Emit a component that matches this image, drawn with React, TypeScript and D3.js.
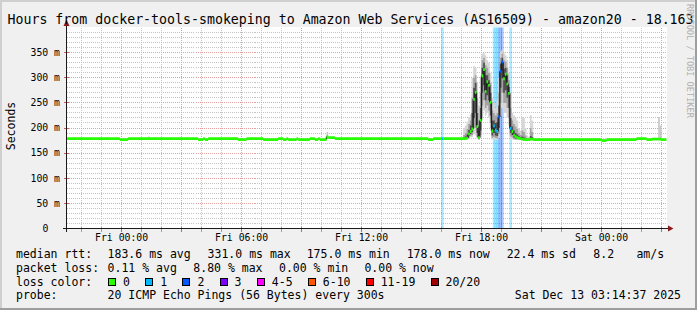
import React from "react";
import * as d3 from "d3";

// ---------- data ----------
const titleText =
  "Hours from docker-tools-smokeping to Amazon Web Services (AS16509) - amazon20 - 18.163";
const yAxisTitle = "Seconds";
const watermark = "RRDTOOL / TOBI OETIKER";

const endTime = Date.UTC(2025, 11, 13, 3, 14, 37);
const spanHours = 30;
const stepMinutes = 5;
const stepCount = 360;

const yMax = 400;
const yMajorTicks = [0, 50, 100, 150, 200, 250, 300, 350];
const yTickLabels = ["0", "50 m", "100 m", "150 m", "200 m", "250 m", "300 m", "350 m"];

const xTickLabels = ["Fri 00:00", "Fri 06:00", "Fri 12:00", "Fri 18:00", "Sat 00:00"];
const xTickTimes = [
  Date.UTC(2025, 11, 12, 0),
  Date.UTC(2025, 11, 12, 6),
  Date.UTC(2025, 11, 12, 12),
  Date.UTC(2025, 11, 12, 18),
  Date.UTC(2025, 11, 13, 0),
];

// median rtt (ms) runs of 5-minute steps: [fromStep, toStep, value]
const medianRuns: [number, number, number][] = [
  [0, 31, 179], [32, 36, 177], [37, 78, 179], [79, 81, 177], [82, 82, 179],
  [83, 84, 177], [85, 102, 179], [103, 107, 177], [108, 117, 179], [118, 126, 177],
  [127, 129, 179], [130, 131, 177], [132, 132, 179], [133, 137, 177], [138, 138, 179],
  [139, 145, 177], [146, 148, 179], [149, 150, 177], [151, 151, 179], [152, 155, 177],
  [156, 156, 183], [157, 160, 181], [161, 216, 179], [217, 219, 177], [220, 235, 179],
  [281, 320, 177], [321, 323, 175], [324, 341, 177], [342, 347, 179], [348, 350, 177],
  [351, 356, 178], [357, 359, 177],
];

// detailed steps during the evening congestion (steps 236..280)
const spikeStart = 236;
const spikeMedian = [179,179,179,179,180,188,193,198,257,271,203,181,215,304,316,273,292,285,251,194,204,196,193,222,313,331,298,307,288,269,199,193,186,183,181,180,179,178,177,177,177,177,178,178,177];
const smokeOuterHi = [180,181,200,205,213,222,228,300,323,320,290,245,300,348,350,345,335,330,310,260,250,240,255,300,352,355,350,345,335,310,270,230,225,220,215,200,195,222,220,200,185,182,226,215,180];
const smokeMidHi = [179,180,186,190,198,208,215,260,300,305,260,215,270,335,340,325,320,310,290,235,230,225,230,270,340,348,335,332,320,295,240,215,208,203,198,190,186,195,192,185,180,179,200,192,178];
const smokeInnerHi = [179,179,181,183,186,196,205,230,280,290,230,195,240,320,330,305,305,295,270,215,215,210,212,245,328,340,318,320,305,282,220,203,195,190,187,184,182,183,181,179,178,178,184,182,177];
const smokeInnerLo = [178,178,178,178,179,184,188,192,220,230,190,179,195,270,285,255,265,255,225,185,190,185,184,200,280,300,270,275,260,240,190,186,181,179,178,178,177,177,176,176,176,176,177,177,176];
const smokeMidLo = [178,178,177,177,178,181,184,186,200,200,182,177,185,245,255,240,245,235,210,180,182,180,179,188,250,270,250,250,240,220,183,181,178,177,177,177,176,176,176,175,175,175,176,176,176];
const smokeOuterLo = [178,177,177,177,177,179,181,182,188,185,178,176,180,220,235,225,230,220,200,177,177,176,176,180,225,240,230,230,220,205,178,177,176,176,176,176,176,175,175,175,175,175,175,175,175];

// isolated smoke blips elsewhere: [step, lo, hi]
const smokeBlips: [number, number, number][] = [
  [49, 178, 183], [156, 179, 192], [355, 178, 222], [356, 178, 205],
];

// packet loss per step (count of lost pings out of 20): [step, lossBucket]
const lossSteps: [number, number][] = [
  [225, 1], [256, 1], [257, 1], [258, 1], [259, 2], [260, 2], [261, 2], [266, 1],
];

const lossColors = ["#26ff00", "#00b8ff", "#0059ff", "#7e00ff", "#ff00ff", "#ff5500", "#ff0000", "#a10000"];
const lossLabels = ["0", "1", "2", "3", "4-5", "6-10", "11-19", "20/20"];

const rttLegend = ["183.6 ms avg", "331.0 ms max", "175.0 ms min", "178.0 ms now", "22.4 ms sd", "8.2", "am/s"];
const lossLegend = ["0.11 % avg", "8.80 % max", "0.00 % min", "0.00 % now"];
const probeText = "20 ICMP Echo Pings (56 Bytes) every 300s";
const stampText = "Sat Dec 13 03:14:37 2025";

// ---------- layout ----------
const W = 697;
const H = 310;
const L = 66.5;
const R = 666.5;
const B = 228.5;
const T = 27.5;
const MONO = "'DejaVu Sans Mono', monospace";

const startTime = endTime - spanHours * 3600 * 1000;
const xt = d3.scaleUtc().domain([new Date(startTime), new Date(endTime)]).range([L, R]);
const xs = d3.scaleLinear().domain([0, stepCount]).range([L, R]);
const y = d3.scaleLinear().domain([0, yMax]).range([B, T]);
const snap = (v: number) => Math.round(v - 0.5) + 0.5;

function buildMedian(): number[] {
  const m: number[] = new Array(stepCount).fill(NaN);
  medianRuns.forEach(([a, b, v]) => {
    for (let i = a; i <= b; i++) m[i] = v;
  });
  spikeMedian.forEach((v, k) => (m[spikeStart + k] = v));
  return m;
}

export default function App() {
  const median = buildMedian();
  const loss: number[] = new Array(stepCount).fill(0);
  lossSteps.forEach(([i, l]) => (loss[i] = l));

  const minorY: number[] = [];
  for (let v = 10; v < yMax; v += 10) if (v % 50 !== 0) minorY.push(v);
  const hours = d3.utcHour.range(new Date(startTime), new Date(endTime));

  const area = d3
    .area<{ i: number; lo: number; hi: number }>()
    .x((d) => xs(d.i))
    .y0((d) => y(d.lo))
    .y1((d) => y(d.hi))
    .curve(d3.curveStepAfter);
  const layer = (lo: number[], hi: number[]) => {
    const pts = lo.map((v, k) => ({ i: spikeStart + k, lo: v, hi: hi[k] }));
    pts.push({ i: spikeStart + lo.length, lo: lo[lo.length - 1], hi: hi[hi.length - 1] });
    return area(pts) || "";
  };

  const segPaths: Record<number, d3.Path> = {};
  median.forEach((v, i) => {
    if (isNaN(v)) return;
    const l = loss[i];
    if (!segPaths[l]) segPaths[l] = d3.path();
    const p = segPaths[l];
    p.moveTo(xs(i), y(v));
    p.lineTo(xs(i + 1), y(v));
  });
  const vert = d3.path();
  for (let i = 0; i < stepCount - 1; i++) {
    const a = y(median[i]);
    const b = y(median[i + 1]);
    if (Math.abs(a - b) > 3) {
      vert.moveTo(xs(i + 1), a);
      vert.lineTo(xs(i + 1), b);
    }
  }

  const legendItems: { bx: number; tx: number; c: string; t: string }[] = [];
  let bx = 108;
  lossLabels.forEach((t, k) => {
    legendItems.push({ bx, tx: bx + 15, c: lossColors[k], t });
    bx += 15 + t.length * 6.9 + 15.3;
  });
  const rttX = [107.6, 207.6, 306.7, 406.7, 506.7, 593.3, 636.4];
  const lossX = [107.6, 193.3, 279, 364.4];

  return (
    <svg width={W} height={H} viewBox={`0 0 ${W} ${H}`} style={{ display: "block", position: "absolute", left: 0, top: 0 }}>
      <rect x={0} y={0} width={W} height={H} fill="#f0f0f0" />
      <path d={`M0,0H${W}V2H2V${H}H0Z`} fill="#cfcfcf" />
      <path d={`M${W},${H}H0V${H - 2}H${W - 2}V0H${W}Z`} fill="#9e9e9e" />
      <rect x={L} y={T - 0.5} width={R - L + 0.5} height={B - T + 0.5} fill="#ffffff" />

      <g stroke="#c4c4c4" strokeWidth={1} strokeDasharray="1,1" shapeRendering="crispEdges">
        {minorY.map((v) => (
          <line key={"my" + v} x1={L} x2={R} y1={snap(y(v))} y2={snap(y(v))} />
        ))}
        {hours
          .filter((h) => h.getUTCHours() % 3 !== 0)
          .map((h) => (
            <line key={"mx" + +h} x1={snap(xt(h))} x2={snap(xt(h))} y1={T} y2={B} />
          ))}
      </g>
      <g stroke="#e3a0a0" strokeWidth={1} strokeDasharray="1,1" shapeRendering="crispEdges">
        {yMajorTicks
          .filter((v) => v > 0)
          .map((v) => (
            <line key={"My" + v} x1={L} x2={R} y1={snap(y(v))} y2={snap(y(v))} />
          ))}
        {hours
          .filter((h) => h.getUTCHours() % 3 === 0)
          .map((h) => (
            <line key={"Mx" + +h} x1={snap(xt(h))} x2={snap(xt(h))} y1={T} y2={B} />
          ))}
      </g>

      {lossSteps.map(([i, l]) => (
        <rect
          key={"lb" + i}
          x={xs(i) - 0.4}
          y={T}
          width={xs(i + 1) - xs(i) + 0.9}
          height={B - T}
          fill={lossColors[l]}
          fillOpacity={0.32}
        />
      ))}

      <path d={layer(smokeOuterLo, smokeOuterHi)} fill="#d6d6d6" />
      <path d={layer(smokeMidLo, smokeMidHi)} fill="#a4a4a4" />
      <path d={layer(smokeInnerLo, smokeInnerHi)} fill="#505050" />
      {smokeBlips.map(([i, lo, hi]) => (
        <rect key={"sb" + i} x={xs(i)} y={y(hi)} width={xs(i + 1) - xs(i)} height={y(lo) - y(hi)} fill="#c8c8c8" />
      ))}

      <path d={vert.toString()} stroke="#1e1e1e" strokeWidth={1.3} fill="none" />
      {Object.keys(segPaths).map((k) => (
        <path key={"seg" + k} d={segPaths[+k].toString()} stroke={lossColors[+k]} strokeWidth={2.8} fill="none" />
      ))}

      <g shapeRendering="crispEdges">
        {hours.map((h) => (
          <line
            key={"tx" + +h}
            x1={snap(xt(h))}
            x2={snap(xt(h))}
            y1={B - 2}
            y2={B + 3}
            stroke={h.getUTCHours() % 3 === 0 ? "#d06060" : "#a0a0a0"}
          />
        ))}
        {yMajorTicks
          .filter((v) => v > 0)
          .map((v) => (
            <line key={"ty" + v} x1={L - 3} x2={L + 2} y1={snap(y(v))} y2={snap(y(v))} stroke="#d06060" />
          ))}
      </g>
      <g stroke="#1a1a1a" strokeWidth={1} shapeRendering="crispEdges">
        <line x1={L - 3.5} x2={R + 3} y1={B} y2={B} />
        <line x1={L} x2={L} y1={B + 3} y2={T - 5} />
      </g>
      <path d={`M${L},${T - 8}L${L + 3},${T - 1.5}L${L - 3},${T - 1.5}Z`} fill="#8b1a1a" />
      <path d={`M${R + 7},${B}L${R + 1.5},${B - 3}L${R + 1.5},${B + 3}Z`} fill="#8b1a1a" />

      <g fontFamily={MONO} fill="#000">
        <text x={7.5} y={23.5} fontSize={13.25}>{titleText}</text>
        <text transform={`translate(15,126) rotate(-90)`} textAnchor="middle" fontSize={11.5}>
          {yAxisTitle}
        </text>
        {yMajorTicks.map((v, k) => (
          <text key={"yl" + v} x={v === 0 ? 48.3 : 60} y={y(v) + 3.3} textAnchor="end" fontSize={9.8}>
            {yTickLabels[k]}
          </text>
        ))}
        {xTickTimes.map((t, k) => (
          <text key={"xl" + t} x={xt(new Date(t))} y={241} textAnchor="middle" fontSize={9.8}>
            {xTickLabels[k]}
          </text>
        ))}

        <g fontSize={11.5}>
          <text x={16} y={258.3}>median rtt:</text>
          {rttLegend.map((t, k) => (
            <text key={"r" + k} x={rttX[k]} y={258.3}>{t}</text>
          ))}
          <text x={16} y={272.3}>packet loss:</text>
          {lossLegend.map((t, k) => (
            <text key={"p" + k} x={lossX[k]} y={272.3}>{t}</text>
          ))}
          <text x={16} y={285.7}>loss color:</text>
          {legendItems.map((it) => (
            <g key={"li" + it.t}>
              <rect x={it.bx + 0.5} y={278.5} width={7} height={7} fill={it.c} stroke="#000" strokeWidth={1} shapeRendering="crispEdges" />
              <text x={it.tx} y={285.7}>{it.t}</text>
            </g>
          ))}
          <text x={16} y={299.3}>probe:</text>
          <text x={107.6} y={299.3}>{probeText}</text>
          <text x={681} y={299.3} textAnchor="end">{stampText}</text>
        </g>
      </g>
      <text
        transform="translate(686.5,4) rotate(90)"
        fontFamily={MONO}
        fontSize={8.6}
        fill="#b0b0b0"
      >
        {watermark}
      </text>
    </svg>
  );
}
